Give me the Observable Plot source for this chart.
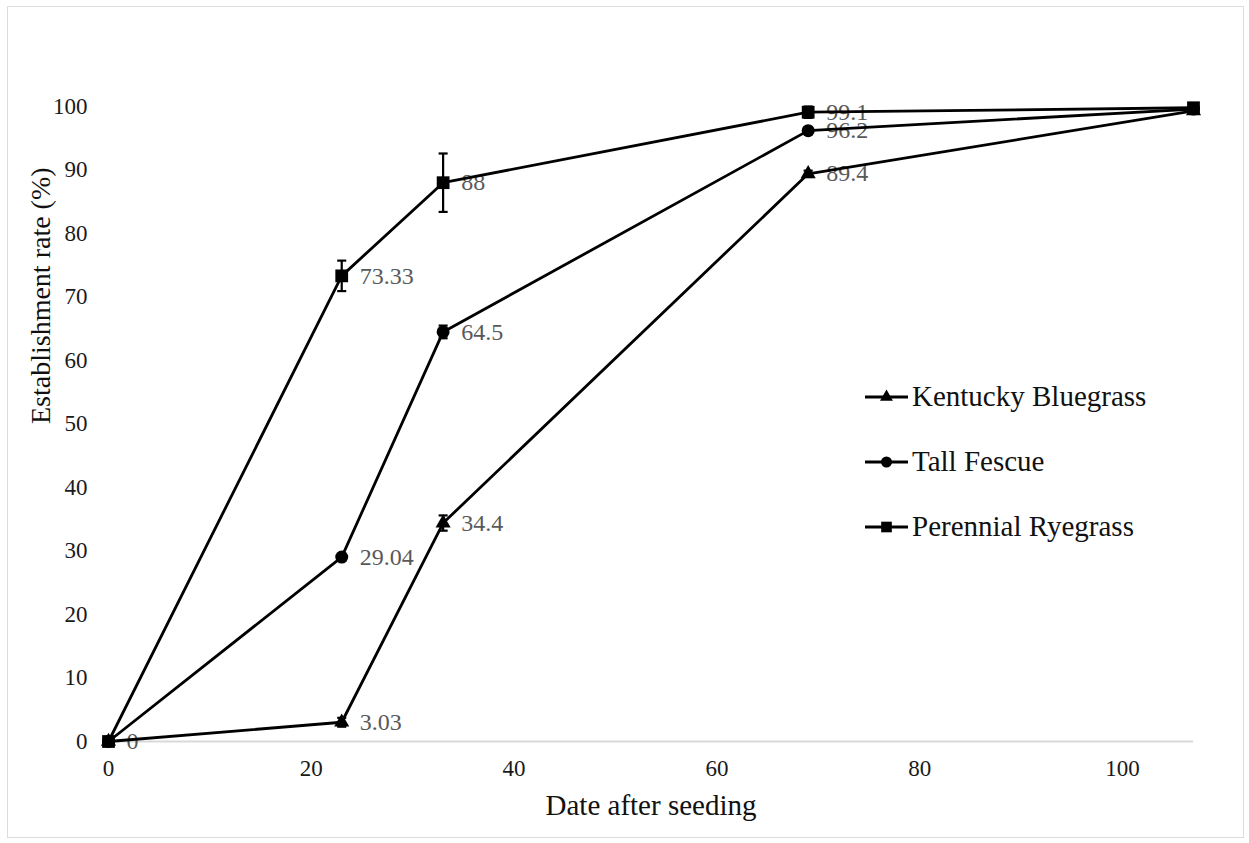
<!DOCTYPE html>
<html><head><meta charset="utf-8">
<script src="https://cdn.jsdelivr.net/npm/d3@7"></script>
<script src="https://cdn.jsdelivr.net/npm/@observablehq/plot@0.6"></script>
<style>
body{margin:0;background:#fff;}
#wrap{position:relative;width:1249px;height:843px;overflow:hidden;background:#fff;}
#frame{position:absolute;left:7px;top:6px;width:1237px;height:832px;border:1.5px solid #dcdcdc;box-sizing:border-box;pointer-events:none;}
#legend{position:absolute;left:865px;top:364px;font-family:"Liberation Serif",serif;font-size:29px;color:#111;}
.item{display:flex;align-items:center;height:65px;white-space:nowrap;}
.item svg{display:block;margin-right:4px;}
#chart{position:absolute;left:0;top:0;}
</style></head><body>
<div id="wrap"><div id="chart"></div><div id="frame"></div><div id="legend"></div></div>
<script>
// ---- data ----
const days = [0, 23, 33, 69, 107];
const seriesNames = ["Kentucky Bluegrass", "Tall Fescue", "Perennial Ryegrass"];
const seriesSymbols = ["triangle", "circle", "square"];
const kentucky = [0, 3.03, 34.4, 89.4, 99.3];
const tallFescue = [0, 29.04, 64.5, 96.2, 99.6];
const perennial = [0, 73.33, 88, 99.1, 99.8];
const kentuckyErr = [0, 0.7, 1.2, 0.5, 0];
const tallFescueErr = [0, 0.3, 1.0, 0.5, 0];
const perennialErr = [0, 2.4, 4.6, 0.9, 0];
const kentuckyLabels = ["0", "3.03", "34.4", "89.4", ""];
const tallFescueLabels = ["", "29.04", "64.5", "96.2", ""];
const perennialLabels = ["", "73.33", "88", "99.1", ""];
const xTicks = [0, 20, 40, 60, 80, 100];
const yTicks = [0, 10, 20, 30, 40, 50, 60, 70, 80, 90, 100];
const xTitle = "Date after seeding";
const yTitle = "Establishment rate (%)";

// ---- table ----
const valueSets = [kentucky, tallFescue, perennial];
const errSets = [kentuckyErr, tallFescueErr, perennialErr];
const labelSets = [kentuckyLabels, tallFescueLabels, perennialLabels];
const rows = [];
seriesNames.forEach((s, i) => {
  days.forEach((d, j) => {
    rows.push({series: s, symbol: seriesSymbols[i], day: d, v: valueSets[i][j], err: errSets[i][j], label: labelSets[i][j]});
  });
});
const errRows = rows.filter(d => d.err > 0);
const labelRows = rows.filter(d => d.label !== "");

const capSymbol = {draw(ctx, size) { const w = Math.sqrt(size) / 2; ctx.moveTo(-w, 0); ctx.lineTo(w, 0); }};
const dotR = {triangle: 5.6, circle: 6.5, square: 7.2};

const plot = Plot.plot({
  width: 1249, height: 843,
  marginLeft: 108, marginRight: 56, marginTop: 106, marginBottom: 102,
  style: {fontFamily: "'Liberation Serif', serif", background: "transparent"},
  x: {domain: [0, 107]},
  y: {domain: [0, 100]},
  marks: [
    Plot.ruleY([0], {stroke: "#d9d9d9", strokeWidth: 2}),
    Plot.axisX({ticks: xTicks, tickSize: 0, tickPadding: 18, fontSize: 23, color: "#1a1a1a", label: null}),
    Plot.axisY({ticks: yTicks, tickSize: 0, tickPadding: 21, fontSize: 23, color: "#1a1a1a", label: null}),
    Plot.text(labelRows, {x: "day", y: "v", text: "label", textAnchor: "start", dx: 18, fill: "#595959", fontSize: 24}),
    Plot.ruleX(errRows, {x: "day", y1: d => d.v - d.err, y2: d => d.v + d.err, stroke: "#000", strokeWidth: 2.2}),
    Plot.dot(errRows, {x: "day", y: d => d.v + d.err, symbol: capSymbol, r: 5.1, stroke: "#000", strokeWidth: 2.2, fill: "none"}),
    Plot.dot(errRows, {x: "day", y: d => d.v - d.err, symbol: capSymbol, r: 5.1, stroke: "#000", strokeWidth: 2.2, fill: "none"}),
    Plot.line(rows, {x: "day", y: "v", z: "series", stroke: "#000", strokeWidth: 2.8}),
    ...seriesSymbols.map(sym => Plot.dot(rows.filter(d => d.symbol === sym), {x: "day", y: "v", symbol: sym, r: dotR[sym], fill: "#000", stroke: "none"})),
    Plot.text([xTitle], {frameAnchor: "bottom", dy: 64, text: d => d, fontSize: 29, fill: "#111", lineAnchor: "middle"}),
    Plot.text([yTitle], {frameAnchor: "left", dx: -67, rotate: -90, text: d => d, fontSize: 28, fill: "#111", lineAnchor: "middle"})
  ]
});
document.getElementById("chart").appendChild(plot);

// ---- legend ----
const legend = d3.select("#legend");
const legR = {triangle: 4.8, circle: 5.5, square: 6};
seriesNames.forEach((s, i) => {
  const item = legend.append("div").attr("class", "item");
  const svg = item.append("svg").attr("width", 43).attr("height", 20);
  svg.append("line").attr("x1", 0).attr("x2", 43).attr("y1", 10).attr("y2", 10).attr("stroke", "#000").attr("stroke-width", 2.8);
  const sym = {triangle: d3.symbolTriangle, circle: d3.symbolCircle, square: d3.symbolSquare}[seriesSymbols[i]];
  const r = legR[seriesSymbols[i]];
  svg.append("path").attr("transform", "translate(21.5,10)").attr("d", d3.symbol(sym, Math.PI * r * r)()).attr("fill", "#000");
  item.append("span").text(s);
});
</script>
</body></html>
